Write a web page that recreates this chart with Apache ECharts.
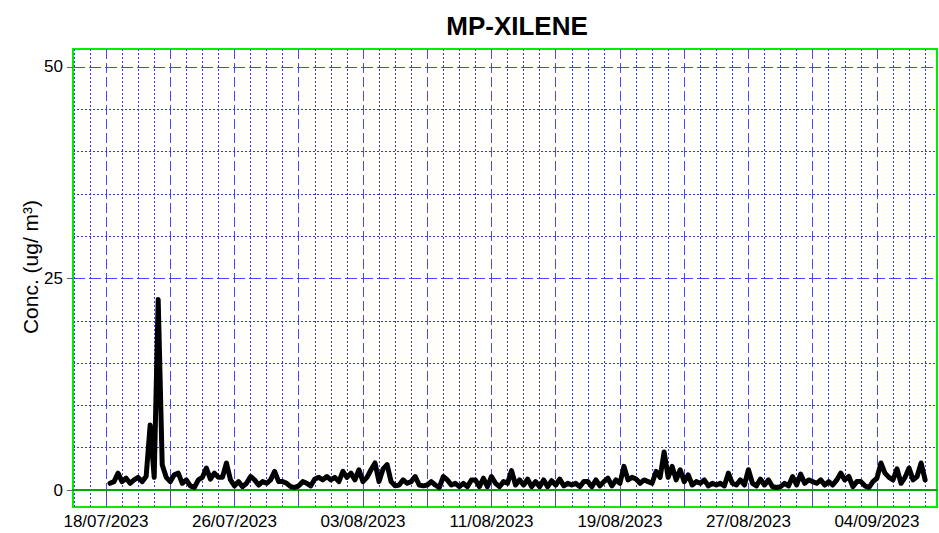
<!DOCTYPE html>
<html>
<head>
<meta charset="utf-8">
<script src="https://cdn.jsdelivr.net/npm/echarts@6/dist/echarts.min.js"></script>
<style>html,body{margin:0;padding:0;background:#fff}#c{width:939px;height:533px}</style>
</head>
<body>
<div id="c"></div>
<script>
// ---- data ----
const chartTitle = "MP-XILENE";
const yAxisName = "Conc. (ug/ m³)";
const xTickLabels = ["18/07/2023","26/07/2023","03/08/2023","11/08/2023","19/08/2023","27/08/2023","04/09/2023"];
const xMajorTicks = ["18/07/2023","22/07/2023","26/07/2023","30/07/2023","03/08/2023","07/08/2023","11/08/2023","15/08/2023","19/08/2023","23/08/2023","27/08/2023","31/08/2023","04/09/2023"];
const yTickLabels = [0, 25, 50];
const yMinorTicks = [5, 10, 15, 20, 30, 35, 40, 45];
const seriesStart = "18/07/2023 06:00";
const stepHours = 6;
const mpXilene = [
  0.8, 1.0, 2.0,
  1.0, 1.4, 0.8, 1.2,
  1.5, 1.0, 1.6, 7.7,
  1.5, 22.5, 3.0, 1.5,
  1.0, 1.8, 2.0, 0.8,
  1.2, 0.5, 0.3, 1.2,
  1.5, 2.6, 1.3, 2.0,
  1.5, 1.5, 3.2, 1.2,
  0.5, 1.0, 0.4, 0.8,
  1.6, 1.2, 0.6, 1.0,
  0.8, 1.2, 2.2, 1.0,
  1.0, 0.8, 0.4, 0.3,
  0.5, 1.0, 0.8, 0.5,
  1.3, 1.5, 1.2, 1.6,
  1.2, 1.5, 1.0, 2.2,
  1.5, 2.0, 1.2, 2.4,
  1.0, 1.5, 2.4, 3.2,
  1.0, 2.5, 3.0, 1.0,
  0.5, 0.6, 1.2, 0.8,
  1.0, 1.6, 0.6, 0.5,
  0.6, 1.0, 0.6, 0.3,
  1.6, 1.2, 0.6, 0.8,
  0.4, 0.8, 0.4, 1.2,
  1.2, 0.4, 1.4, 0.4,
  1.6, 0.8, 0.4, 1.0,
  0.8, 2.3, 0.6, 1.2,
  0.6, 1.3, 0.4, 1.0,
  0.4, 1.2, 0.4, 1.1,
  0.6, 1.3, 0.5, 0.8,
  0.6, 0.8, 0.4, 1.0,
  1.0, 0.4, 1.2, 0.5,
  1.0, 1.4, 0.5, 1.2,
  0.8, 2.8, 1.2, 1.5,
  1.3, 0.8, 1.2, 1.0,
  0.8, 2.2, 1.5, 4.5,
  1.5, 2.8, 1.2, 2.4,
  1.0, 1.8, 0.6, 1.0,
  0.8, 1.2, 0.5, 0.8,
  0.6, 0.8, 0.5, 2.0,
  0.8, 0.6, 1.2, 0.6,
  2.4, 0.8, 0.5, 1.3,
  0.6, 1.2, 0.4, 0.3,
  0.4, 0.8, 0.5, 1.6,
  0.6, 1.9, 0.8, 1.2,
  1.0, 0.8, 1.2, 0.6,
  1.0, 0.6, 1.2, 2.0,
  1.2, 1.6, 0.4, 1.0,
  1.0, 0.5, 0.3, 1.0,
  1.4, 3.2, 2.0, 1.5,
  1.2, 2.5, 0.8, 1.5,
  2.6, 1.2, 1.6, 3.2,
  1.2
];
const xRangeDays = [-2.054, 51.74]; // relative to first label
const yRange = [-2, 52.1];

// ---- helpers ----
const DAY = 86400000;
function parseDMY(s) {
  const [datePart, timePart] = s.split(' ');
  const [d, m, y] = datePart.split('/').map(Number);
  let h = 0, mi = 0;
  if (timePart) { [h, mi] = timePart.split(':').map(Number); }
  return Date.UTC(y, m - 1, d, h, mi);
}
function pad(n) { return (n < 10 ? '0' : '') + n; }
function fmt(v) {
  const d = new Date(v);
  return pad(d.getUTCDate()) + '/' + pad(d.getUTCMonth() + 1) + '/' + d.getUTCFullYear();
}
const t0 = parseDMY(xTickLabels[0]);
const xMin = t0 + xRangeDays[0] * DAY;
const xMax = t0 + xRangeDays[1] * DAY;
const startT = parseDMY(seriesStart);
const seriesData = mpXilene.map((v, i) => [startT + i * stepHours * 3600000, v]);
const labelVals = xTickLabels.map(s => parseDMY(s));
const majorVals = xMajorTicks.map(s => parseDMY(s));
const minorVals = [];
for (let t = Math.ceil((xMin - t0) / DAY) * DAY + t0; t <= xMax; t += DAY) {
  if (majorVals.indexOf(t) < 0) minorVals.push(t);
}

const FONT = "Liberation Sans";
const MAJOR = 'rgba(40,40,255,0.85)';
const MINOR = 'rgba(30,30,255,0.9)';
const chart = echarts.init(document.getElementById('c'), null, { renderer: 'svg' });
chart.setOption({
  animation: false,
  backgroundColor: '#ffffff',
  title: {
    text: chartTitle, left: 512, top: 8, textAlign: 'center',
    textStyle: { fontFamily: FONT, fontSize: 26, fontWeight: 'bold', color: '#000' }
  },
  grid: {
    left: 73, right: 2, top: 49, bottom: 26,
    show: true, borderColor: '#00ee00', borderWidth: 2, backgroundColor: 'transparent'
  },
  xAxis: [
    {
      type: 'value', min: xMin, max: xMax,
      axisLine: { show: true, lineStyle: { color: '#00a800', width: 2 } },
      axisTick: { show: true, customValues: majorVals, length: 7, lineStyle: { color: '#555' } },
      axisLabel: { customValues: labelVals, formatter: fmt, fontFamily: FONT, fontSize: 17, color: '#000', margin: 6 },
      splitLine: { show: true, lineStyle: { color: MAJOR, width: 1, type: [10, 4] } }
    },
    {
      type: 'value', min: xMin, max: xMax, position: 'bottom',
      axisLine: { show: false },
      axisTick: { show: false, customValues: minorVals },
      axisLabel: { show: false, customValues: minorVals },
      splitLine: { show: true, lineStyle: { color: MINOR, width: 1, type: [2, 2] } }
    }
  ],
  yAxis: [
    {
      type: 'value', min: yRange[0], max: yRange[1],
      name: yAxisName, nameLocation: 'middle', nameRotate: 90, nameGap: 32,
      nameMoveOverlap: false,
      nameTextStyle: { fontFamily: FONT, fontSize: 21, color: '#000', padding: [0, 0, 0, 22] },
      axisLine: { show: true, lineStyle: { color: '#00ee00', width: 2 } },
      axisTick: { show: true, customValues: yTickLabels, length: 6, lineStyle: { color: '#666' } },
      axisLabel: { customValues: yTickLabels, fontFamily: FONT, fontSize: 17, color: '#000', margin: 10 },
      splitLine: { show: true, lineStyle: { color: MAJOR, width: 1, type: [12, 4] } }
    },
    {
      type: 'value', min: yRange[0], max: yRange[1], position: 'left',
      axisLine: { show: false },
      axisTick: { show: false, customValues: yMinorTicks },
      axisLabel: { show: false, customValues: yMinorTicks },
      splitLine: { show: true, lineStyle: { color: MINOR, width: 1, type: [2, 2] } }
    }
  ],
  series: [{
    type: 'line', xAxisIndex: 0, yAxisIndex: 0,
    data: seriesData, showSymbol: false, symbol: 'none',
    lineStyle: { color: '#000', width: 5, join: 'round', cap: 'round' },
    z: 5
  }]
});
</script>
</body>
</html>
